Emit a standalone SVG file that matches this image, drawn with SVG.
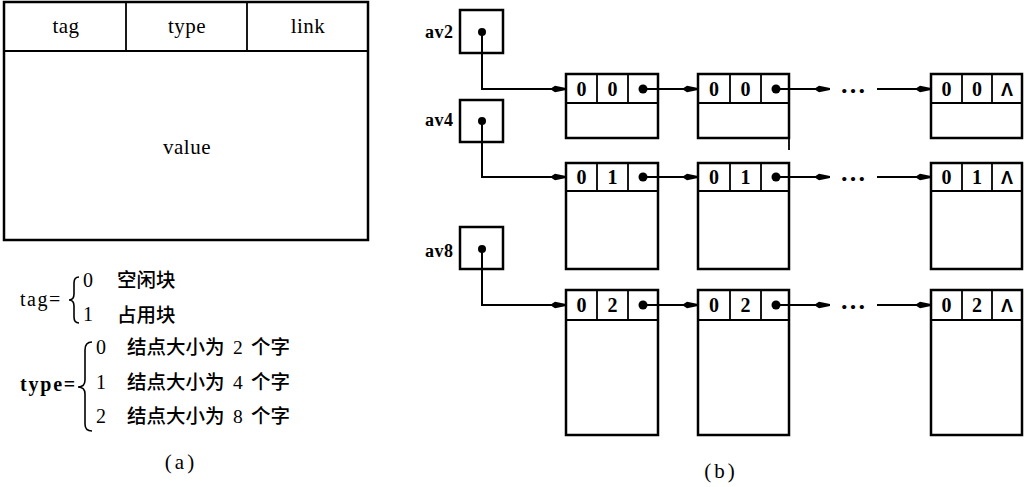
<svg xmlns="http://www.w3.org/2000/svg" width="1025" height="487" viewBox="0 0 1025 487">
<defs>
<marker id="arr" markerWidth="16" markerHeight="8" refX="16" refY="4" orient="auto" markerUnits="userSpaceOnUse"><path d="M0,4 L5,0.8 L16,3.1 L16,4.9 L5,7.2 z" fill="#000"/></marker>
</defs>
<style>
.box{fill:#fff;stroke:#000;stroke-width:2.5}
.thin{fill:none;stroke:#000;stroke-width:1.8}
.brace{fill:none;stroke:#000;stroke-width:1.6}
.hd{font-family:"Liberation Serif",serif;font-size:21px;text-anchor:middle;letter-spacing:0.5px}
.lg{font-family:"Liberation Serif",serif;font-size:20px}
.lgb{font-family:"Liberation Serif",serif;font-size:20px;font-weight:bold}
.cn{font-family:"Liberation Serif","Noto Sans CJK SC",serif;font-size:19.5px;font-weight:500}
.num{font-weight:normal}
.cell{font-family:"Liberation Serif",serif;font-weight:bold;font-size:20px;text-anchor:middle}
.nil{font-family:"Liberation Sans",sans-serif;font-weight:bold;font-size:18px;text-anchor:middle}
.lab{font-family:"Liberation Serif",serif;font-weight:bold;font-size:18px;letter-spacing:0.5px}
.cap{font-family:"Liberation Serif",serif;font-size:21px;letter-spacing:3px;text-anchor:middle}
.ell{font-family:"Liberation Serif",serif;font-size:26px;font-weight:bold;text-anchor:middle}
.dot{fill:#000}
.conn{fill:none;stroke:#000;stroke-width:2;marker-end:url(#arr)}
</style>

<g id="node-format">
<rect x="4" y="2" width="364" height="238" class="box"/>
<line x1="4" y1="51" x2="368" y2="51" class="thin"/>
<line x1="126" y1="2" x2="126" y2="51" class="thin"/>
<line x1="247" y1="2" x2="247" y2="51" class="thin"/>
<text x="66" y="33" class="hd">tag</text>
<text x="187" y="33" class="hd">type</text>
<text x="308" y="33" class="hd">link</text>
<text x="187" y="154" class="hd">value</text>
</g>

<g id="legend-tag">
<text x="20" y="306" class="lg" letter-spacing="1.5">tag=</text>
<path class="brace" d="M79,277 Q74,277 74,283 L74,294 Q74,300 69,300 Q74,300 74,306 L74,317 Q74,323 79,323"/>
<text x="83" y="287" class="lg">0</text>
<text x="117" y="287" class="cn">空闲块</text>
<text x="83" y="321" class="lg">1</text>
<text x="117" y="322" class="cn">占用块</text>
</g>

<g id="legend-type">
<text x="20" y="391" class="lgb" letter-spacing="1.8">type=</text>
<path class="brace" d="M92,342 Q85,342 85,350 L85,380 Q85,387 78,387 Q85,387 85,394 L85,424 Q85,431 92,431"/>
<text x="96" y="354" class="lg">0</text>
<text y="354" class="cn"><tspan x="127">结点大小为 </tspan><tspan x="233" class="num">2 </tspan><tspan x="251">个字</tspan></text>
<text x="96" y="389" class="lg">1</text>
<text y="389" class="cn"><tspan x="127">结点大小为 </tspan><tspan x="233" class="num">4 </tspan><tspan x="251">个字</tspan></text>
<text x="96" y="423" class="lg">2</text>
<text y="423" class="cn"><tspan x="127">结点大小为 </tspan><tspan x="233" class="num">8 </tspan><tspan x="251">个字</tspan></text>
</g>

<text x="181" y="469" class="cap">(a)</text>
<text x="721" y="478" class="cap">(b)</text>

<g id="av2">
<text x="425" y="38" class="lab">av2</text>
<rect x="460" y="10" width="43" height="43" class="box"/>
<circle cx="482" cy="32" r="4" class="dot"/>
</g>
<g id="av4">
<text x="425" y="126" class="lab">av4</text>
<rect x="460" y="100" width="43" height="42" class="box"/>
<circle cx="482" cy="121" r="4" class="dot"/>
</g>
<g id="av8">
<text x="425" y="257" class="lab">av8</text>
<rect x="460" y="227" width="43" height="42" class="box"/>
<circle cx="482" cy="249" r="4" class="dot"/>
</g>

<g id="n2-a">
<rect x="566" y="74" width="92" height="64" class="box"/>
<line x1="566" y1="103" x2="658" y2="103" class="thin"/>
<line x1="597" y1="74" x2="597" y2="103" class="thin"/>
<line x1="628" y1="74" x2="628" y2="103" class="thin"/>
<text x="581.5" y="96" class="cell">0</text>
<text x="612.5" y="96" class="cell">0</text>
<circle cx="643" cy="89" r="4.5" class="dot"/>
</g>
<g id="n2-b">
<rect x="698" y="74" width="91" height="64" class="box"/>
<line x1="789" y1="138" x2="789" y2="150" class="thin"/>
<line x1="698" y1="103" x2="789" y2="103" class="thin"/>
<line x1="730" y1="74" x2="730" y2="103" class="thin"/>
<line x1="761" y1="74" x2="761" y2="103" class="thin"/>
<text x="714" y="96" class="cell">0</text>
<text x="745.5" y="96" class="cell">0</text>
<circle cx="776" cy="89" r="4.5" class="dot"/>
</g>
<g id="n2-c">
<rect x="931" y="74" width="91" height="64" class="box"/>
<line x1="931" y1="103" x2="1022" y2="103" class="thin"/>
<line x1="962" y1="74" x2="962" y2="103" class="thin"/>
<line x1="992" y1="74" x2="992" y2="103" class="thin"/>
<text x="946.5" y="96" class="cell">0</text>
<text x="977" y="96" class="cell">0</text>
<text x="1007" y="96" class="nil">Λ</text>
</g>

<g id="n4-a">
<rect x="566" y="163" width="92" height="106" class="box"/>
<line x1="566" y1="191" x2="658" y2="191" class="thin"/>
<line x1="597" y1="163" x2="597" y2="191" class="thin"/>
<line x1="628" y1="163" x2="628" y2="191" class="thin"/>
<text x="581.5" y="184" class="cell">0</text>
<text x="612.5" y="184" class="cell">1</text>
<circle cx="643" cy="177" r="4.5" class="dot"/>
</g>
<g id="n4-b">
<rect x="698" y="163" width="91" height="106" class="box"/>
<line x1="698" y1="191" x2="789" y2="191" class="thin"/>
<line x1="730" y1="163" x2="730" y2="191" class="thin"/>
<line x1="761" y1="163" x2="761" y2="191" class="thin"/>
<text x="714" y="184" class="cell">0</text>
<text x="745.5" y="184" class="cell">1</text>
<circle cx="776" cy="177" r="4.5" class="dot"/>
</g>
<g id="n4-c">
<rect x="931" y="163" width="91" height="106" class="box"/>
<line x1="931" y1="191" x2="1022" y2="191" class="thin"/>
<line x1="962" y1="163" x2="962" y2="191" class="thin"/>
<line x1="992" y1="163" x2="992" y2="191" class="thin"/>
<text x="946.5" y="184" class="cell">0</text>
<text x="977" y="184" class="cell">1</text>
<text x="1007" y="184" class="nil">Λ</text>
</g>

<g id="n8-a">
<rect x="566" y="290" width="92" height="145" class="box"/>
<line x1="566" y1="320" x2="658" y2="320" class="thin"/>
<line x1="597" y1="290" x2="597" y2="320" class="thin"/>
<line x1="628" y1="290" x2="628" y2="320" class="thin"/>
<text x="581.5" y="312" class="cell">0</text>
<text x="612.5" y="312" class="cell">2</text>
<circle cx="643" cy="305" r="4.5" class="dot"/>
</g>
<g id="n8-b">
<rect x="698" y="290" width="91" height="145" class="box"/>
<line x1="698" y1="320" x2="789" y2="320" class="thin"/>
<line x1="730" y1="290" x2="730" y2="320" class="thin"/>
<line x1="761" y1="290" x2="761" y2="320" class="thin"/>
<text x="714" y="312" class="cell">0</text>
<text x="745.5" y="312" class="cell">2</text>
<circle cx="776" cy="305" r="4.5" class="dot"/>
</g>
<g id="n8-c">
<rect x="931" y="290" width="91" height="145" class="box"/>
<line x1="931" y1="320" x2="1022" y2="320" class="thin"/>
<line x1="962" y1="290" x2="962" y2="320" class="thin"/>
<line x1="992" y1="290" x2="992" y2="320" class="thin"/>
<text x="946.5" y="312" class="cell">0</text>
<text x="977" y="312" class="cell">2</text>
<text x="1007" y="312" class="nil">Λ</text>
</g>

<g id="connectors">
<path class="conn" d="M482,32 V89 H566"/>
<path class="conn" d="M643,89 H698"/>
<path class="conn" d="M776,89 H830"/>
<path class="conn" d="M877,89 H931"/>
<path class="conn" d="M482,121 V177 H566"/>
<path class="conn" d="M643,177 H698"/>
<path class="conn" d="M776,177 H830"/>
<path class="conn" d="M877,177 H931"/>
<path class="conn" d="M482,249 V305 H566"/>
<path class="conn" d="M643,305 H698"/>
<path class="conn" d="M776,305 H830"/>
<path class="conn" d="M877,305 H931"/>
</g>
<text x="853" y="93" class="ell">…</text>
<text x="853" y="181" class="ell">…</text>
<text x="853" y="309" class="ell">…</text>
</svg>
